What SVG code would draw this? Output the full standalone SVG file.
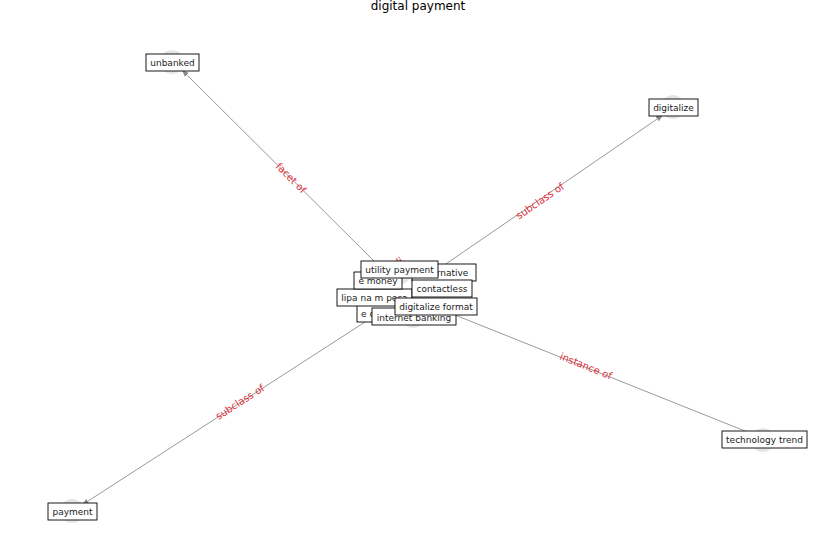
<svg xmlns="http://www.w3.org/2000/svg" width="837" height="559" viewBox="0 0 837 559">
<defs>
<style>
.bg{fill:#fff}
.e{stroke:#999;stroke-width:1;fill:none}
.c{fill:#e6e6e6}
.b{fill:#fff;stroke:#000;stroke-width:0.9}
.t{font-family:"DejaVu Sans",sans-serif;font-size:9px;fill:#222;text-anchor:middle;dominant-baseline:central}
.l{font-family:"DejaVu Sans",sans-serif;font-size:10px;fill:#e0303a;text-anchor:middle;dominant-baseline:central}
.title{font-family:"DejaVu Sans",sans-serif;font-size:12px;fill:#000;text-anchor:middle}
</style>
<marker id="a" viewBox="0 0 10 10" refX="10" refY="5" markerWidth="7" markerHeight="7" orient="auto-start-reverse"><path d="M0,1 L10,5 L0,9 Z" fill="#888"/></marker>
</defs>
<rect class="bg" width="837" height="559"/>
<text class="title" x="418" y="10">digital payment</text>
<g id="markers">
<circle class="c" cx="172" cy="62" r="12"/>
<circle class="c" cx="673" cy="107" r="12"/>
<circle class="c" cx="763" cy="440" r="12"/>
<circle class="c" cx="72" cy="511" r="12"/>
<circle class="c" cx="400" cy="272" r="12"/>
<circle class="c" cx="413" cy="316" r="12"/>
</g>
<g id="connectors">
<line class="e" x1="378" y1="265" x2="182" y2="70" marker-end="url(#a)"/>
<line class="e" x1="440" y1="268" x2="663" y2="115" marker-end="url(#a)"/>
<line class="e" x1="455" y1="315" x2="750" y2="433"/>
<line class="e" x1="365" y1="322" x2="82" y2="505" marker-end="url(#a)"/>
<text class="l" transform="translate(291,178) rotate(45)">facet of</text>
<text class="l" transform="translate(540,201) rotate(-34.5)">subclass of</text>
<text class="l" transform="translate(586,366) rotate(21.8)">instance of</text>
<text class="l" transform="translate(240,402) rotate(-32.9)">subclass of</text>
<text class="l" transform="translate(398,262) rotate(-30)">di</text>
</g>
<g id="n-unbanked"><rect class="b" x="146" y="54" width="53" height="17"/><text class="t" x="172.5" y="62.5">unbanked</text></g>
<g id="n-digitalize"><rect class="b" x="649" y="99" width="49" height="17"/><text class="t" x="673.5" y="107.5">digitalize</text></g>
<g id="n-technology-trend"><rect class="b" x="722" y="431" width="85" height="17"/><text class="t" x="764.5" y="439.5">technology trend</text></g>
<g id="n-payment"><rect class="b" x="48" y="503" width="49" height="17"/><text class="t" x="72.5" y="511.5">payment</text></g>
<g id="n-e-commerce"><rect class="b" x="357" y="305" width="64" height="17"/><text class="t" x="389" y="313.5">e commerce</text></g>
<g id="n-internet-banking"><rect class="b" x="372" y="308" width="84" height="17"/><text class="t" x="414" y="317.5">internet banking</text></g>
<g id="n-lipa"><rect class="b" x="337" y="289" width="75" height="17"/><text class="t" x="374.5" y="297.5">lipa na m pesa</text></g>
<g id="n-alternative"><rect class="b" x="412" y="264" width="64" height="17"/><text class="t" x="444" y="272.5">alternative</text></g>
<g id="n-e-money"><rect class="b" x="354" y="272" width="48" height="17"/><text class="t" x="378" y="280.5">e money</text></g>
<g id="n-contactless"><rect class="b" x="412" y="280" width="60" height="17"/><text class="t" x="442" y="288.5">contactless</text></g>
<g id="n-utility-payment"><rect class="b" x="361" y="261" width="77" height="17"/><text class="t" x="399.5" y="269.5">utility payment</text></g>
<g id="n-digitalize-format"><rect class="b" x="395" y="298" width="82" height="17"/><text class="t" x="436" y="306.5">digitalize format</text></g>
</svg>
